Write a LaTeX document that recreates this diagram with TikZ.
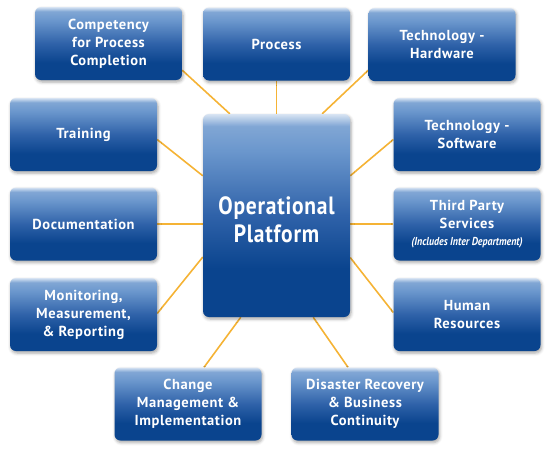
\documentclass[tikz,border=0pt]{standalone}
\usepackage{fontspec}
\setmainfont{PT Sans}
\newfontfamily\boxfont{PT Sans}[LetterSpace=4]
\newfontfamily\condfont{PT Sans}[FakeStretch=0.86,LetterSpace=3]
\newfontfamily\subfont{PT Sans}[FakeStretch=0.86]
\usetikzlibrary{calc,shadows.blur,backgrounds}
\definecolor{bdark}{HTML}{0A448E}
\definecolor{bmid}{HTML}{2F62A9}
\definecolor{blight}{HTML}{6B97CD}
\definecolor{btop}{HTML}{D8E4F3}
\definecolor{linkorange}{HTML}{F5B335}
\pgfdeclareverticalshading{boxshade}{100bp}{color(0bp)=(bdark); color(25bp)=(bdark); color(37bp)=(bdark); color(50bp)=(bmid); color(66bp)=(blight); color(72bp)=(blight!80!btop); color(75bp)=(btop); color(100bp)=(btop)}
\tikzset{
  bluebox/.style={rectangle, rounded corners=6pt, shading=boxshade,
    minimum width=147pt, minimum height=73pt, inner sep=2pt, align=center,
    text=white, font=\boxfont\bfseries\fontsize{14.5}{18}\selectfont,
    blur shadow={shadow xshift=1pt, shadow yshift=-2pt, shadow blur radius=3pt, shadow opacity=35}},
  bigbox/.style={bluebox, minimum height=203pt, font=\condfont\bfseries\fontsize{25}{28}\selectfont},
  link/.style={draw=linkorange, line width=1.6pt}
}
\begin{document}
\begin{tikzpicture}[x=1pt,y=-1pt]
\useasboundingbox (0,0) rectangle (556,456);
\node[bigbox] (center) at (276.5,215.5) {\rule{0pt}{26pt}Operational\\Platform};
\node[bluebox] (comp) at (108.5,43.5) {Competency\\for Process\\Completion};
\node[bluebox] (proc) at (276.5,44) {Process};
\node[bluebox] (hw) at (442,44.5) {Technology -\\Hardware};
\node[bluebox] (train) at (83.5,134.5) {Training};
\node[bluebox] (sw) at (467,134.5) {Technology -\\Software};
\node[bluebox] (doc) at (83.5,224) {Documentation};
\node[bluebox] (third) at (467,224) {Third Party\\Services\\[-1pt]{\subfont\itshape\bfseries\fontsize{11.5}{13}\selectfont (Includes Inter Department)}};
\node[bluebox] (mon) at (83.5,314.5) {Monitoring,\\Measurement,\\\& Reporting};
\node[bluebox] (hum) at (467,314.5) {Human\\Resources};
\node[bluebox] (chg) at (188,404) {Change\\Management \&\\Implementation};
\node[bluebox] (dis) at (365,404) {Disaster Recovery\\\& Business\\Continuity};
\begin{scope}[on background layer]
\draw[link] ($(comp.south east)+(0,-10)$) -- ($(center.north west)+(27,0)$);
\draw[link] (proc.south) -- (center.north);
\draw[link] ($(hw.south west)+(0,-11)$) -- ($(center.north east)+(-28,0)$);
\draw[link] ($(train.east)+(0,5)$) -- ($(center.north west)+(0,62)$);
\draw[link] ($(sw.west)+(0,5)$) -- ($(center.north east)+(0,62)$);
\draw[link] (doc.east) -- (doc.east -| center.west);
\draw[link] (third.west) -- (third.west -| center.east);
\draw[link] ($(mon.east)+(0,-1)$) -- ($(center.west)+(0,41.5)$);
\draw[link] ($(hum.west)+(0,-2)$) -- ($(center.east)+(0,42)$);
\draw[link] ($(chg.north)+(16,0)$) -- ($(center.south west)+(38,0)$);
\draw[link] ($(center.south east)+(-37,0)$) -- ($(dis.north)+(-17,0)$);
\end{scope}
\end{tikzpicture}
\end{document}
